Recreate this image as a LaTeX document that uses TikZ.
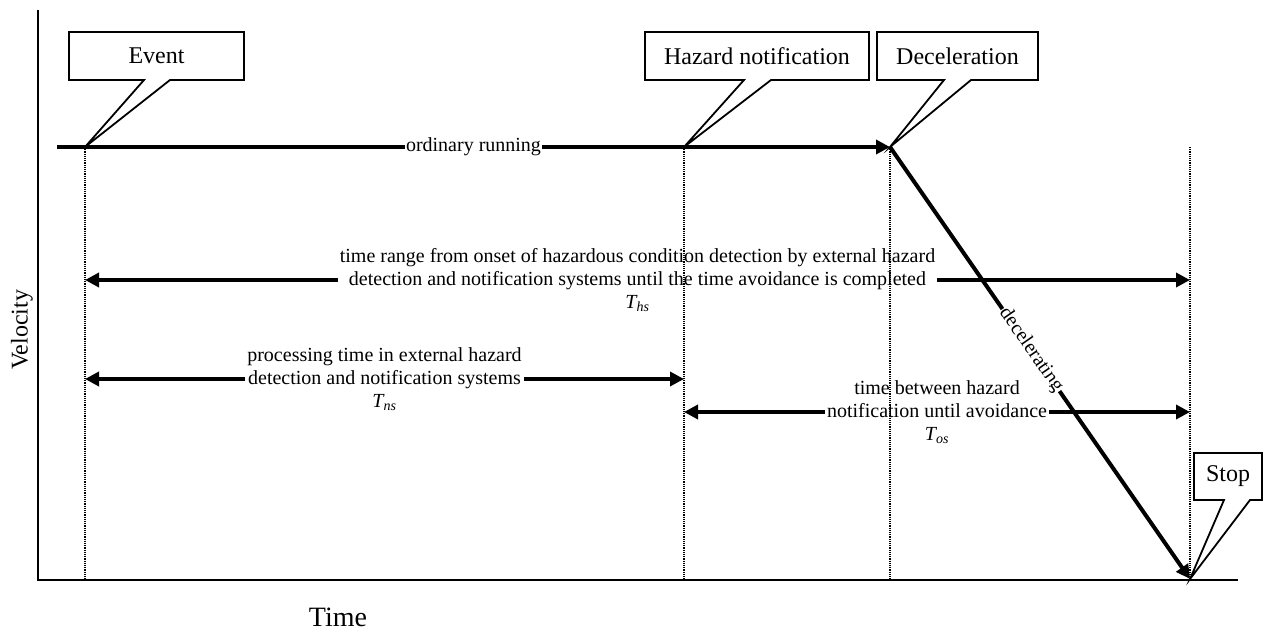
\documentclass[tikz,border=0pt]{standalone}
\usepackage{fontspec}
\setmainfont{Liberation Serif}
\usetikzlibrary{
    arrows.meta,
    positioning,
    calc
}
\tikzset{
    % Axis style
    axis/.style={
        line width=2.5pt,
        draw=black
    },
    % Thick time line arrows
    run/.style={
        ->,
        line width=4pt
    },
    span/.style={
        <->,
        line width=4pt
    },
    % Dotted guide lines
    guide/.style={
        densely dotted,
        line width=1.2pt
    },
    % Callout text holder
    callbox/.style={
        rectangle,
        draw=none,
        minimum height=48pt,
        inner sep=0pt,
        outer sep=0pt,
        font=\fontsize{24}{28}\selectfont
    },
    % Callout outline
    callline/.style={
        line width=1.8pt,
        fill=white,
        line join=miter
    },
    % Label style
    span label/.style={
        align=center,
        fill=white,
        inner sep=2pt,
        font=\fontsize{20}{23}\selectfont
    }
}

\begin{document}
\begin{tikzpicture}[
        x=1pt, y=-1pt,
        >={Triangle[length=14pt, width=14pt]}
    ]
        \useasboundingbox (0,0) rectangle (1267,632);

        % Axes
        \coordinate (origin) at (38,580);
        \coordinate (ytop) at (38,10);
        \coordinate (xend) at (1238,580);
        \draw[axis] (ytop) -- (origin) -- (xend);
        \node[rotate=90, font=\fontsize{24}{28}\selectfont] (vlabel) at (22,330) {Velocity};
        \node[font=\fontsize{28}{32}\selectfont] (tlabel) at (338,617) {Time};

        % Instants on the time line
        \coordinate (start) at (57,147);
        \coordinate (tev) at (85,147);
        \coordinate (thz) at (684,147);
        \coordinate (tdc) at (890,147);
        \coordinate (tst) at (1190,147);
        \coordinate (stop) at (1190,579);

        % Levels of the spans
        \coordinate (ths) at (0,280);
        \coordinate (tns) at (0,379);
        \coordinate (tos) at (0,412);

        % Running and decelerating
        \draw[run] (start) -- node[span label, inner sep=1pt] (ordinary) {ordinary running} (tdc);
        \draw[run] (tdc) -- node[span label, sloped, inner sep=1pt, pos=0.47] (decel) {decelerating} (stop);

        % Spans
        \draw[span] (tev |- ths) -- node[span label] (thslabel) {time range from onset of hazardous condition detection by external hazard\\detection and notification systems until the time avoidance is completed\\{\itshape T\textsubscript{hs}}} (tst |- ths);
        \draw[span] (tev |- tns) -- node[span label] (tnslabel) {processing time in external hazard\\detection and notification systems\\{\itshape T\textsubscript{ns}}} (thz |- tns);
        \draw[span] (thz |- tos) -- node[span label] (toslabel) {time between hazard\\notification until avoidance\\{\itshape T\textsubscript{os}}} (tst |- tos);

        % Guides
        \foreach \t in {tev, thz, tdc, tst}
            \draw[guide] (\t) -- (\t |- origin);

        % Callouts
        \node[callbox, minimum width=175pt] (event) at (156.5,56) {Event};
        \node[callbox, minimum width=224pt] (hazard) at (757,56) {Hazard notification};
        \node[callbox, minimum width=161pt] (decelbox) at (957.5,56) {Deceleration};
        \node[callbox, minimum width=68pt, minimum height=47pt] (stopbox) at (1228,476.5) {Stop};

        \draw[callline] (event.south west) -- ($(event.south west)+(75,0)$) -- (tev) -- ($(event.south west)+(101,0)$) -- (event.south east) -- (event.north east) -- (event.north west) -- cycle;
        \draw[callline] (hazard.south west) -- ($(hazard.south west)+(99,0)$) -- (thz) -- ($(hazard.south west)+(126,0)$) -- (hazard.south east) -- (hazard.north east) -- (hazard.north west) -- cycle;
        \draw[callline] (decelbox.south west) -- ($(decelbox.south west)+(67,0)$) -- (tdc) -- ($(decelbox.south west)+(94,0)$) -- (decelbox.south east) -- (decelbox.north east) -- (decelbox.north west) -- cycle;
        \draw[callline] (stopbox.south west) -- ($(stopbox.south west)+(30,0)$) -- (stop) -- ($(stopbox.south west)+(56,0)$) -- (stopbox.south east) -- (stopbox.north east) -- (stopbox.north west) -- cycle;
        \node[callbox, minimum width=175pt] at (event) {Event};
        \node[callbox, minimum width=224pt] at (hazard) {Hazard notification};
        \node[callbox, minimum width=161pt] at (decelbox) {Deceleration};
        \node[callbox, minimum width=68pt, minimum height=47pt] at (stopbox) {Stop};

    \end{tikzpicture}
\end{document}
